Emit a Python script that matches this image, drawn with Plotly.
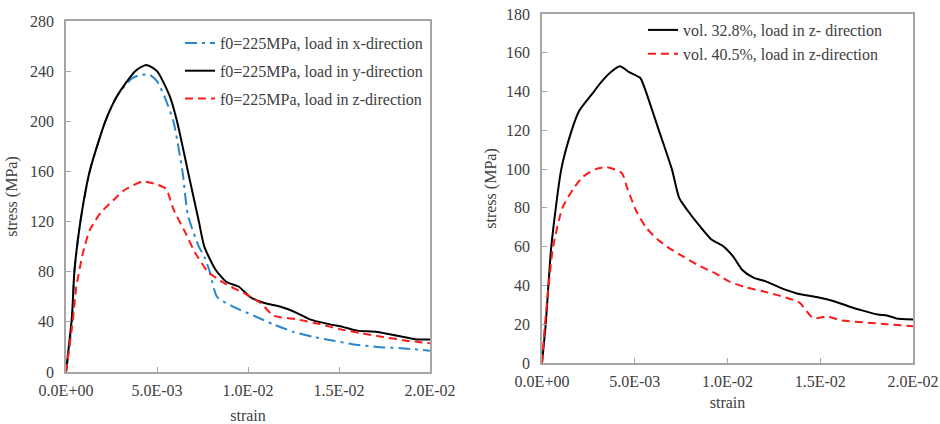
import plotly.graph_objects as go

# ---------------- data: left panel (f0 = 225 MPa) ----------------
x_dir_strain = [0, 0.00033, 0.00046, 0.00079, 0.0013, 0.00216, 0.0028, 0.0036, 0.0041, 0.0046,
                0.0050, 0.0054, 0.0059, 0.0064, 0.0067, 0.0073, 0.0076, 0.0079, 0.0083, 0.0092,
                0.0103, 0.0114, 0.0125, 0.0136, 0.0147, 0.0158, 0.0171, 0.0184, 0.0200]
x_dir_stress = [0, 40, 80, 120, 160, 200, 220, 234, 237, 237,
                232, 220, 200, 160, 125, 100, 92, 80, 60, 52,
                45, 38, 32, 28, 25, 22, 20, 19, 17]

y_dir_strain = [0, 0.00033, 0.00046, 0.00079, 0.0013, 0.00216, 0.0028, 0.0038, 0.0044, 0.0050,
                0.0057, 0.0061, 0.0067, 0.0073, 0.0076, 0.0082, 0.0088, 0.0095, 0.0101, 0.0109,
                0.0118, 0.0127, 0.0134, 0.0145, 0.0152, 0.0160, 0.0171, 0.0182, 0.0193, 0.0200]
y_dir_stress = [0, 45, 80, 120, 160, 200, 220, 240, 245, 240,
                220, 200, 160, 120, 100, 82, 72, 68, 60, 55,
                52, 47, 42, 38, 36, 33, 32, 29, 26, 26]

z_dir_strain = [0, 0.00038, 0.00057, 0.00093, 0.0013, 0.0019, 0.0026, 0.0032, 0.0042, 0.0049,
                0.0055, 0.0059, 0.0066, 0.0071, 0.0078, 0.0088, 0.0099, 0.0107, 0.0114, 0.0127,
                0.0140, 0.0151, 0.0162, 0.0174, 0.0187, 0.0200]
z_dir_stress = [0, 42, 68, 95, 113, 127, 137, 145, 152, 150,
                146, 130, 110, 95, 80, 70, 62, 55, 45, 42,
                38, 34, 31, 28, 25, 23]

# ---------------- data: right panel (load in z-direction) ----------------
vol328_strain = [0, 0.0002, 0.0005, 0.00104, 0.0016, 0.0020, 0.0028, 0.0032, 0.0037, 0.0042,
                 0.0047, 0.0053, 0.0056, 0.0063, 0.0070, 0.0074, 0.0079, 0.0083, 0.0091, 0.0098,
                 0.0103, 0.0108, 0.0114, 0.0121, 0.0128, 0.0137, 0.0148, 0.0157, 0.0166, 0.0173,
                 0.0181, 0.0186, 0.0191, 0.0200]
vol328_stress = [0, 20, 60, 100, 120, 130, 140, 145, 150, 153,
                 150, 147, 140, 120, 100, 85, 78, 73, 64, 60,
                 55, 48, 44, 42, 39, 36, 34, 32, 29, 27,
                 25, 24.5, 23, 22.5]

vol405_strain = [0, 0.00016, 0.00036, 0.0006, 0.0011, 0.0017, 0.0022, 0.0029, 0.0035, 0.0043,
                 0.0046, 0.0051, 0.0056, 0.0062, 0.0069, 0.0076, 0.0085, 0.0094, 0.0101, 0.0110,
                 0.0119, 0.0127, 0.0134, 0.0139, 0.0145, 0.0147, 0.0154, 0.0161, 0.0173, 0.0186,
                 0.0200]
vol405_stress = [0, 20, 40, 60, 80, 90, 96, 100, 101, 98,
                 90, 78, 70, 64, 59, 55, 50, 46, 42, 39,
                 37, 35, 33, 31, 24, 23, 24, 22, 21, 20,
                 19]

left_names = ["f0=225MPa, load in x-direction",
              "f0=225MPa, load in y-direction",
              "f0=225MPa, load in z-direction"]
right_names = ["vol. 32.8%, load in z- direction",
               "vol. 40.5%, load in z-direction"]

x_ticks = [0, 0.005, 0.01, 0.015, 0.02]
x_tick_labels = ["0.0E+00", "5.0E-03", "1.0E-02", "1.5E-02", "2.0E-02"]

FONT = "Liberation Serif"
TXT = "#404040"
AX = "#a6a6a6"
BLUE = "#2a86d1"
RED = "#ff1a1a"
SMOOTH = 0.6
W, H = 940, 424

fig = go.Figure()

fig.add_trace(go.Scatter(x=x_dir_strain, y=x_dir_stress, mode="lines", name=left_names[0],
                         line=dict(color=BLUE, width=2, dash="12px,5px,3px,5px", shape="spline", smoothing=SMOOTH),
                         xaxis="x", yaxis="y", legend="legend", legendgroup="a"))
fig.add_trace(go.Scatter(x=y_dir_strain, y=y_dir_stress, mode="lines", name=left_names[1],
                         line=dict(color="black", width=2, shape="spline", smoothing=SMOOTH),
                         xaxis="x", yaxis="y", legend="legend", legendgroup="b"))
fig.add_trace(go.Scatter(x=z_dir_strain, y=z_dir_stress, mode="lines", name=left_names[2],
                         line=dict(color=RED, width=2, dash="8px,5px", shape="spline", smoothing=SMOOTH),
                         xaxis="x", yaxis="y", legend="legend", legendgroup="c"))

fig.add_trace(go.Scatter(x=vol328_strain, y=vol328_stress, mode="lines", name=right_names[0],
                         line=dict(color="black", width=2, shape="spline", smoothing=SMOOTH),
                         xaxis="x2", yaxis="y2", legend="legend2", legendgroup="d"))
fig.add_trace(go.Scatter(x=vol405_strain, y=vol405_stress, mode="lines", name=right_names[1],
                         line=dict(color=RED, width=2, dash="8px,5px", shape="spline", smoothing=SMOOTH),
                         xaxis="x2", yaxis="y2", legend="legend2", legendgroup="e"))

common_x = dict(range=[0, 0.02], tickmode="array", tickvals=x_ticks, ticktext=x_tick_labels,
                ticks="inside", ticklen=5, tickcolor=AX, showline=True, linecolor=AX, linewidth=1.5,
                mirror=True, showgrid=False, zeroline=False, automargin=False, ticklabelstandoff=3,
                ticklabeloverflow="allow", tickfont=dict(family=FONT, size=16, color=TXT))
common_y = dict(ticks="inside", ticklen=5, tickcolor=AX, showline=True, linecolor=AX, linewidth=1.5,
                mirror=True, showgrid=False, zeroline=False, automargin=False, ticklabelstandoff=7,
                ticklabeloverflow="allow", tickfont=dict(family=FONT, size=16, color=TXT))

title_font = dict(family=FONT, size=16, color=TXT)

fig.update_layout(
    width=W, height=H,
    margin=dict(l=0, r=0, t=0, b=0, autoexpand=False),
    paper_bgcolor="white", plot_bgcolor="white",
    font=dict(family=FONT, size=16, color=TXT),
    xaxis=dict(domain=[66 / W, 430 / W], anchor="y",
               title=dict(text="strain", font=title_font, standoff=14), **common_x),
    yaxis=dict(domain=[(H - 372) / H, (H - 21) / H], anchor="x", range=[0, 280], dtick=40,
               title=dict(text="stress (MPa)", font=title_font, standoff=8), **common_y),
    xaxis2=dict(domain=[542 / W, 913 / W], anchor="y2",
                title=dict(text="strain", font=title_font, standoff=8), **common_x),
    yaxis2=dict(domain=[(H - 363) / H, (H - 14) / H], anchor="x2", range=[0, 180], dtick=20,
                title=dict(text="stress (MPa)", font=title_font, standoff=5), **common_y),
    legend=dict(x=180 / W, y=1 - 26 / H, xanchor="left", yanchor="top",
                bgcolor="rgba(0,0,0,0)", font=dict(family=FONT, size=16, color=TXT),
                traceorder="grouped", tracegroupgap=4),
    legend2=dict(x=643 / W, y=1 - 13 / H, xanchor="left", yanchor="top",
                 bgcolor="rgba(0,0,0,0)", font=dict(family=FONT, size=16, color=TXT),
                 traceorder="grouped", tracegroupgap=0),
    showlegend=True,
)

fig.write_html("out.html", config={"displayModeBar": False},
               post_script="document.body.style.margin='0';")
